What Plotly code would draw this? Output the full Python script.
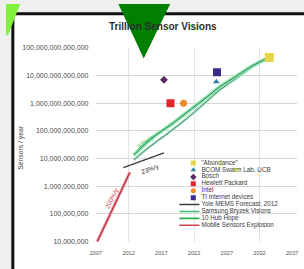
import plotly.graph_objects as go

W, H = 304, 269

# ---------------- data ----------------
point_names = ['"Abundance"', 'BCOM Swarm Lab, UCB', 'Bosch', 'Hewlett Packard', 'Intel', 'TI Internet devices']
point_years = [2033.5, 2025.4, 2017.4, 2018.4, 2020.4, 2025.5]
point_values = [4.5e13, 6.0e12, 7.0e12, 1.0e12, 1.0e12, 1.3e13]
point_colors = ['#e9d648', '#2f7fa6', '#5a2a5e', '#e0282e', '#f08a26', '#3b2a8c']
point_symbols = ['square', 'triangle-up', 'diamond', 'square', 'circle', 'square']
point_sizes = [9, 6, 6, 8, 7, 8]

yole_years = [2011.2, 2017.4]
yole_values = [4.7e9, 1.6e10]

samsung_years = [2012.8, 2015.5, 2018.5, 2021.5, 2024.0, 2026.0, 2028.5, 2031.0, 2033.5]
samsung_values = [1.35e10, 5.4e10, 1.7e11, 6.0e11, 1.7e12, 4.0e12, 9.6e12, 2.3e13, 4.5e13]

hub_years = [2012.8, 2015.5, 2018.5, 2021.5, 2024.0, 2026.0, 2028.5, 2031.0, 2033.5]
hub_values = [9.0e9, 3.0e10, 1.0e11, 3.7e11, 1.2e12, 3.1e12, 8.0e12, 2.1e13, 4.5e13]

mobile_years = [2007.2, 2012.2]
mobile_values = [1.0e7, 3.2e9]

line_names = ['Yole MEMS Forecast, 2012', 'Samsung Bryzek Visions', '10 Hub Hope', 'Mobile Sensors Explosion']
line_colors = ['#3a3a3a', '#3cc072', '#2fb04e', '#d0404e']

x_ticks = [2007, 2012, 2017, 2022, 2027, 2032, 2037]
x_tick_labels = ['2007', '2012', '2017', '2022', '2027', '2032', '2037']
y_ticks = [1e7, 1e8, 1e9, 1e10, 1e11, 1e12, 1e13, 1e14]
y_tick_labels = ['10,000,000', '100,000,000', '1,000,000,000', '10,000,000,000',
                 '100,000,000,000', '1,000,000,000,000', '10,000,000,000,000',
                 '100,000,000,000,000']

rate_labels = ['200%/y', '23%/y', '30%/y']

FONT = 'Liberation Sans, Arial, sans-serif'


def px(x):
    return x / W


def py(y):
    return 1 - y / H


fig = go.Figure()

# ---- main chart lines ----
fig.add_trace(go.Scatter(x=mobile_years, y=mobile_values, mode='lines',
                         line=dict(color='#f4a6b0', width=3.2), hoverinfo='skip', showlegend=False))
fig.add_trace(go.Scatter(x=mobile_years, y=mobile_values, mode='lines', name=line_names[3],
                         line=dict(color='#b52a3c', width=1.2), showlegend=False))
fig.add_trace(go.Scatter(x=yole_years, y=yole_values, mode='lines', name=line_names[0],
                         line=dict(color=line_colors[0], width=1.3), showlegend=False))
fig.add_trace(go.Scatter(x=hub_years, y=hub_values, mode='lines', name=line_names[2],
                         line=dict(color='#b4f0d4', width=3.0, shape='spline'), hoverinfo='skip', showlegend=False))
fig.add_trace(go.Scatter(x=hub_years, y=hub_values, mode='lines',
                         line=dict(color='#4d7464', width=1.0, shape='spline'), showlegend=False))
fig.add_trace(go.Scatter(x=samsung_years, y=samsung_values, mode='lines',
                         line=dict(color='#86e8a8', width=3.6, shape='spline'), hoverinfo='skip', showlegend=False))
fig.add_trace(go.Scatter(x=samsung_years, y=samsung_values, mode='lines', name=line_names[1],
                         line=dict(color='#3d7e66', width=1.0, shape='spline'), showlegend=False))

# ---- points ----
for n, xv, yv, c, s, sz in zip(point_names, point_years, point_values, point_colors, point_symbols, point_sizes):
    fig.add_trace(go.Scatter(x=[xv], y=[yv], mode='markers', name=n,
                             marker=dict(color=c, symbol=s, size=sz, line=dict(width=0)),
                             showlegend=False))

# ---- hand-built legend in its own small subplot ----
leg_names = point_names + line_names
marker_x = 191.7
line_x = [177.5, 198.0]
text_x = 200.0
for i, (n, c, s) in enumerate(zip(point_names, point_colors, point_symbols)):
    fig.add_trace(go.Scatter(x=[marker_x], y=[i], mode='markers', xaxis='x3', yaxis='y3',
                             marker=dict(color=c, symbol=s, size=5), showlegend=False, hoverinfo='skip'))
for j, (n, c) in enumerate(zip(line_names, line_colors)):
    i = len(point_names) + j
    fig.add_trace(go.Scatter(x=line_x, y=[i, i], mode='lines', xaxis='x3', yaxis='y3',
                             line=dict(color=c, width=1.6), showlegend=False, hoverinfo='skip'))
fig.add_trace(go.Scatter(x=[text_x] * len(leg_names), y=list(range(len(leg_names))), mode='text',
                         text=leg_names, textposition='middle right', xaxis='x3', yaxis='y3',
                         textfont=dict(family=FONT, size=6.3, color='#3a3a3a'),
                         showlegend=False, hoverinfo='skip'))

# ---- rate annotations ----
ann = [
    dict(x=2009.4, y=8.55, text=rate_labels[0], textangle=-64, font=dict(color='#c8384a', size=6.5, family=FONT)),
    dict(x=2015.4, y=9.62, text=rate_labels[1], textangle=-20, font=dict(color='#333333', size=6.5, family=FONT)),
    dict(x=2014.6, y=10.6, text=rate_labels[2], textangle=-38, font=dict(color='#38b868', size=6.5, family=FONT)),
]
annotations = [dict(xref='x', yref='y', showarrow=False, **a) for a in ann]
annotations.append(dict(xref='paper', yref='paper', x=px(161), y=py(23), yanchor='middle', xanchor='center',
                        text='<b>Trillion Sensor Visions</b>',
                        showarrow=False, font=dict(family=FONT, size=10, color='#2e2e2e')))
annotations.append(dict(xref='paper', yref='paper', x=px(16), y=py(147), yanchor='middle', xanchor='center',
                        text='Sensors / year', textangle=-90,
                        showarrow=False, font=dict(family=FONT, size=6.8, color='#444444')))

shapes = [
    dict(type='rect', xref='paper', yref='paper', x0=px(7), y0=py(10), x1=px(312), y1=py(285),
         line=dict(color='#111111', width=3), fillcolor='white', layer='below'),
    dict(type='path', xref='paper', yref='paper',
         path=f"M{px(0)},{py(0)} L{px(14.5)},{py(0)} L{px(2)},{py(32)} L{px(0)},{py(32)} Z",
         fillcolor='#80f23c', line=dict(width=0), layer='above'),
    dict(type='path', xref='paper', yref='paper',
         path=f"M{px(115)},{py(0)} L{px(168)},{py(0)} L{px(141)},{py(56)} Z",
         fillcolor='#017f01', line=dict(width=0), layer='above'),
]

fig.update_layout(
    width=W, height=H,
    margin=dict(l=0, r=0, t=0, b=0),
    paper_bgcolor='#efefed',
    plot_bgcolor='rgba(0,0,0,0)',
    showlegend=False,
    annotations=annotations,
    shapes=shapes,
    xaxis=dict(domain=[px(92), px(298)], range=[2007, 2037.75], tickvals=x_ticks, ticktext=x_tick_labels,
               showgrid=False, zeroline=False, showline=False,
               ticks='outside', ticklen=6, tickcolor='rgba(0,0,0,0)',
               tickfont=dict(family=FONT, size=5.6, color='#555555')),
    xaxis2=dict(domain=[px(92), px(298)], range=[2007, 2037.75], overlaying='x', anchor='y',
                tick0=2002, dtick=10, showgrid=True, gridcolor='#e2e2e2', gridwidth=0.8,
                showticklabels=False, zeroline=False, ticks=''),
    yaxis=dict(domain=[py(244), py(45)], type='log', range=[7, 14], tickvals=y_ticks, ticktext=y_tick_labels,
               showgrid=True, gridcolor='#d6d6d6', gridwidth=0.8, zeroline=False, showline=False,
               ticks='outside', ticklen=5, tickcolor='rgba(0,0,0,0)',
               tickfont=dict(family=FONT, size=7, color='#4a4a4a')),
    xaxis3=dict(domain=[px(170), px(304)], range=[170, 304], visible=False, anchor='y3'),
    yaxis3=dict(domain=[py(234.3), py(156.2)], range=[10, -1], visible=False, anchor='x3'),
)
fig.add_trace(go.Scatter(x=[2007], y=[1e7], xaxis='x2', yaxis='y', mode='markers',
                         marker=dict(opacity=0), showlegend=False, hoverinfo='skip'))

fig.write_html('out.html', config={'displayModeBar': False},
               post_script="document.body.style.margin='0';document.body.style.overflow='hidden';"
                           "document.body.style.background='#efefed';")
